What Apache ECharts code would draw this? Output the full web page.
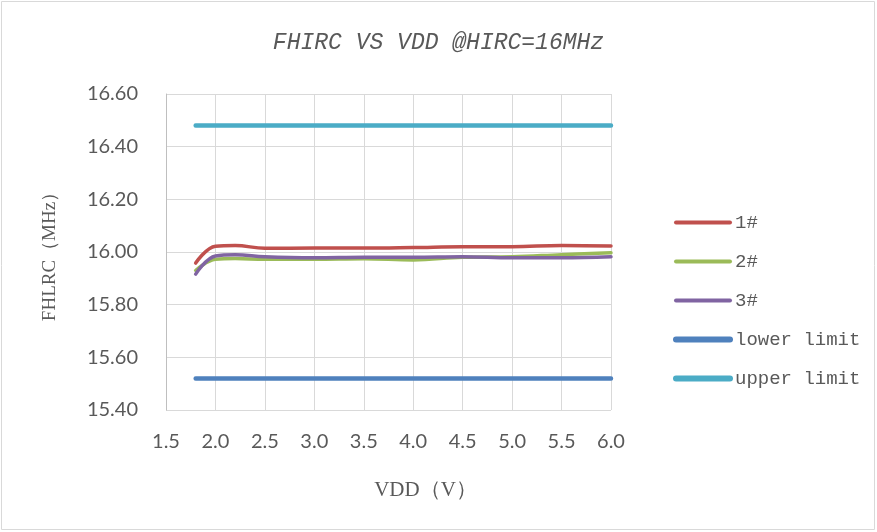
<!DOCTYPE html>
<html>
<head>
<meta charset="utf-8">
<script src="https://cdn.jsdelivr.net/npm/echarts@6/dist/echarts.min.js"></script>
<style>html,body{margin:0;padding:0;background:#fff}#c{width:877px;height:532px}</style>
</head>
<body>
<div id="c"></div>
<script>
const vdd = [1.8, 2.0, 2.2, 2.5, 3.0, 3.5, 4.0, 4.5, 5.0, 5.5, 6.0];
const s1 = [15.958, 16.022, 16.025, 16.014, 16.015, 16.015, 16.017, 16.020, 16.020, 16.025, 16.023];
const s2 = [15.930, 15.972, 15.975, 15.972, 15.972, 15.974, 15.970, 15.980, 15.982, 15.990, 15.997];
const s3 = [15.916, 15.985, 15.990, 15.982, 15.978, 15.980, 15.980, 15.982, 15.978, 15.978, 15.982];
const lowerLimit = 15.52;
const upperLimit = 16.48;
const seriesNames = ['1#', '2#', '3#', 'lower limit', 'upper limit'];
const colors = ['#C0504D', '#9BBB59', '#8064A2', '#4F81BD', '#4BACC6'];

const pairs = (ys) => vdd.map((x, i) => [x, ys[i]]);
const flat = (v) => vdd.map(x => [x, v]);

const chart = echarts.init(document.getElementById('c'));
const mk = (name, data, color, width, smooth) => ({
  name, type: 'line', data, smooth, symbol: 'none',
  lineStyle: { color, width, cap: 'round' }, itemStyle: { color }
});
chart.setOption({
  animation: false,
  title: {
    text: 'FHIRC VS VDD @HIRC=16MHz', left: 'center', top: 26,
    textStyle: { fontFamily: 'Liberation Mono', fontStyle: 'italic', fontWeight: 'normal', fontSize: 23, color: '#595959' }
  },
  graphic: [{ type: 'rect', shape: { x: 1.5, y: 1.5, width: 873, height: 528 }, style: { fill: 'none', stroke: '#d9d9d9', lineWidth: 1 } }],
  legend: {
    orient: 'vertical', left: 668, top: 208, itemWidth: 54, itemHeight: 20, itemGap: 20,
    data: seriesNames.map((n, i) => ({ name: n, lineStyle: { width: i < 3 ? 4 : 6, cap: 'round' } })),
    itemStyle: { opacity: 0 },
    textStyle: { fontFamily: 'Liberation Mono', fontSize: 19, color: '#595959' }
  },
  grid: { left: 166, right: 266, top: 94, bottom: 122 },
  xAxis: {
    type: 'value', min: 1.5, max: 6.0, interval: 0.5,
    name: 'VDD（V）', nameLocation: 'middle', nameGap: 70,
    nameTextStyle: { fontFamily: 'Liberation Serif', fontSize: 21, color: '#595959', padding: [0, 0, 0, 74] },
    axisLine: { show: false }, axisTick: { show: false },
    axisLabel: { formatter: v => v.toFixed(1), fontFamily: 'Lato', fontSize: 20, color: '#595959', margin: 22 },
    splitLine: { show: true, lineStyle: { color: '#d9d9d9', width: 1 } }
  },
  yAxis: {
    type: 'value', min: 15.4, max: 16.6, interval: 0.2,
    name: 'FHLRC（MHz）', nameLocation: 'middle', nameGap: 106,
    nameTextStyle: { fontFamily: 'Liberation Serif', fontSize: 19, color: '#595959' },
    axisLine: { show: true, lineStyle: { color: '#bfbfbf' } }, axisTick: { show: false },
    axisLabel: { formatter: v => v.toFixed(2), fontFamily: 'Lato', fontSize: 20, color: '#595959', margin: 28 },
    splitLine: { show: true, lineStyle: { color: '#d9d9d9', width: 1 } }
  },
  series: [
    mk(seriesNames[0], pairs(s1), colors[0], 3.5, 0.4),
    mk(seriesNames[1], pairs(s2), colors[1], 3.5, 0.4),
    mk(seriesNames[2], pairs(s3), colors[2], 3.5, 0.4),
    mk(seriesNames[3], flat(lowerLimit), colors[3], 4.5, false),
    mk(seriesNames[4], flat(upperLimit), colors[4], 4.5, false)
  ]
});
</script>
</body>
</html>
